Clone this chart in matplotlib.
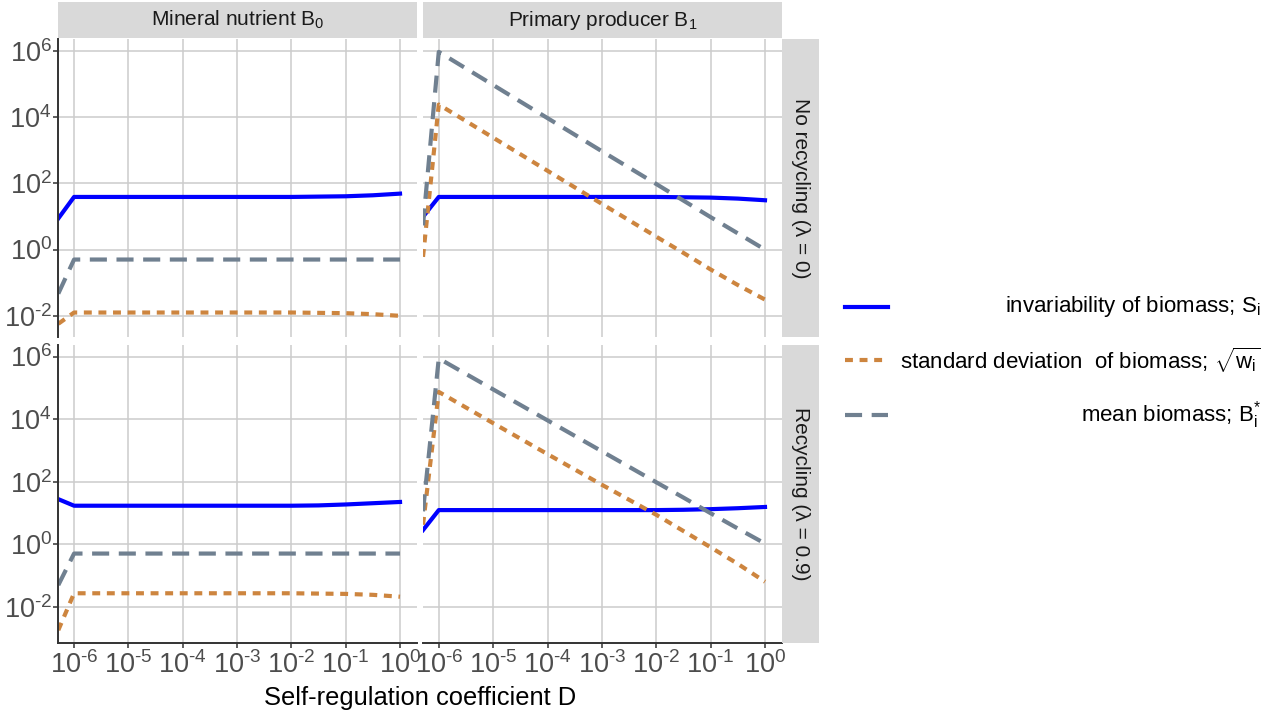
import numpy as np
import matplotlib
matplotlib.use('Agg')
import matplotlib.pyplot as plt
from matplotlib.lines import Line2D
from matplotlib.ticker import NullLocator, FuncFormatter

plt.rcParams['font.family'] = ['Liberation Sans', 'DejaVu Sans']
plt.rcParams['mathtext.fontset'] = 'custom'
plt.rcParams['mathtext.rm'] = 'Liberation Sans'
plt.rcParams['mathtext.it'] = 'Liberation Sans:italic'
plt.rcParams['mathtext.bf'] = 'Liberation Sans:bold'

# log10 of the self-regulation coefficient D
log_d = [-6.29, -6, -5, -4, -3, -2, -1.5, -1, -0.5, 0]

# values are log10 of the plotted quantity
# mineral nutrient B0, no recycling
nut_norec_inv = [0.94, 1.59, 1.59, 1.59, 1.59, 1.59, 1.60, 1.61, 1.64, 1.69]
nut_norec_sd = [-2.24, -1.90, -1.90, -1.90, -1.90, -1.90, -1.91, -1.92, -1.95, -2.00]
nut_norec_mean = [-1.33, -0.30, -0.30, -0.30, -0.30, -0.30, -0.30, -0.30, -0.30, -0.30]
# primary producer B1, no recycling
prod_norec_inv = [0.99, 1.59, 1.59, 1.59, 1.59, 1.59, 1.58, 1.57, 1.54, 1.49]
prod_norec_sd = [-0.22, 4.38, 3.38, 2.38, 1.38, 0.39, -0.10, -0.60, -1.07, -1.51]
prod_norec_mean = [0.73, 5.97, 4.97, 3.97, 2.97, 1.98, 1.48, 0.98, 0.49, 0.0]
# mineral nutrient B0, recycling
nut_rec_inv = [1.44, 1.23, 1.23, 1.23, 1.23, 1.23, 1.24, 1.27, 1.31, 1.35]
nut_rec_sd = [-2.75, -1.57, -1.57, -1.57, -1.57, -1.57, -1.58, -1.59, -1.62, -1.68]
nut_rec_mean = [-1.31, -0.30, -0.30, -0.30, -0.30, -0.30, -0.30, -0.30, -0.30, -0.30]
# primary producer B1, recycling
prod_rec_inv = [0.45, 1.09, 1.09, 1.09, 1.09, 1.09, 1.10, 1.12, 1.15, 1.19]
prod_rec_sd = [0.62, 4.87, 3.87, 2.88, 1.90, 0.94, 0.42, -0.10, -0.63, -1.20]
prod_rec_mean = [1.05, 5.94, 4.95, 3.96, 2.97, 1.98, 1.49, 0.99, 0.50, 0.02]

col_labels = ['Mineral nutrient B$_0$', 'Primary producer B$_1$']
row_labels = ['No recycling (λ = 0)', 'Recycling (λ = 0.9)']
series_labels = ['invariability of biomass; S$_\\mathrm{i}$',
                 'standard deviation  of biomass; $\\sqrt{\\mathrm{w_i}}$',
                 'mean biomass; B$_\\mathrm{i}^{*}$']
x_ticks = [1e-6, 1e-5, 1e-4, 1e-3, 1e-2, 1e-1, 1e0]
y_ticks = [1e-2, 1e0, 1e2, 1e4, 1e6]

panels = [[(nut_norec_inv, nut_norec_sd, nut_norec_mean),
           (prod_norec_inv, prod_norec_sd, prod_norec_mean)],
          [(nut_rec_inv, nut_rec_sd, nut_rec_mean),
           (prod_rec_inv, prod_rec_sd, prod_rec_mean)]]

# line styles: solid blue, dotted orange, dashed grey
styles = [dict(color='#0000FF', lw=3.0, ls='-'),
          dict(color='#CD853F', lw=3.0, dashes=(1.9, 1.6)),
          dict(color='#708090', lw=3.0, dashes=(4.1, 2.3))]


def pow10(v, pos):
    e = int(round(np.log10(v)))
    return '10$^{\\mathrm{%s}}$' % str(e).replace('-', '\u2010')


W, H = 1285, 715
fig = plt.figure(figsize=(W / 100, H / 100), dpi=100)


def box(x0, y0, x1, y1):
    return [x0 / W, 1 - y1 / H, (x1 - x0) / W, (y1 - y0) / H]


col_x = [(58.3, 416.7), (423.0, 781.7)]
row_y = [(39.3, 336.7), (345.0, 643.3)]
row_ylim = [(10 ** -2.63, 10 ** 6.35), (10 ** -3.17, 10 ** 6.37)]

x = 10.0 ** np.array(log_d)
for r in range(2):
    for c in range(2):
        ax = fig.add_axes(box(col_x[c][0], row_y[r][0], col_x[c][1], row_y[r][1]))
        for vals, st in zip(panels[r][c], styles):
            ax.plot(x, 10.0 ** np.array(vals), dash_capstyle='butt', **st)
        ax.set_xscale('log')
        ax.set_yscale('log')
        ax.set_xlim(10 ** -6.29, 10 ** 0.307)
        ax.set_ylim(*row_ylim[r])
        ax.set_xticks(x_ticks)
        ax.set_yticks(y_ticks)
        ax.xaxis.set_minor_locator(NullLocator())
        ax.yaxis.set_minor_locator(NullLocator())
        ax.xaxis.set_major_formatter(FuncFormatter(pow10))
        ax.yaxis.set_major_formatter(FuncFormatter(pow10))
        ax.grid(True, color='#CCCCCC', lw=1.1)
        ax.set_axisbelow(True)
        for s in ax.spines.values():
            s.set_visible(False)
        ax.tick_params(labelsize=19.5, labelcolor='#4D4D4D', color='#333333',
                       length=3.6, width=1.1)
        ax.tick_params(axis='y', pad=1)
        ax.tick_params(axis='x', pad=2)
        if c == 0:
            ax.spines['left'].set_visible(True)
            ax.spines['left'].set_color('#333333')
            ax.spines['left'].set_linewidth(1.4)
        else:
            ax.tick_params(axis='y', left=False, labelleft=False)
        if r == 1:
            ax.spines['bottom'].set_visible(True)
            ax.spines['bottom'].set_color('#333333')
            ax.spines['bottom'].set_linewidth(1.4)
        else:
            ax.tick_params(axis='x', bottom=False, labelbottom=False)

# strips on top
for c in range(2):
    sa = fig.add_axes(box(col_x[c][0], 1.7, col_x[c][1], 38.3))
    sa.set_facecolor('#D9D9D9')
    sa.set_xticks([])
    sa.set_yticks([])
    for s in sa.spines.values():
        s.set_visible(False)
    sa.text(0.5, 0.5, col_labels[c], ha='center', va='center', fontsize=15,
            color='#1A1A1A', transform=sa.transAxes)

# strips on the right
for r in range(2):
    sa = fig.add_axes(box(782.3, row_y[r][0], 819.0, row_y[r][1]))
    sa.set_facecolor('#D9D9D9')
    sa.set_xticks([])
    sa.set_yticks([])
    for s in sa.spines.values():
        s.set_visible(False)
    sa.text(0.5, 0.5, row_labels[r], ha='center', va='center', fontsize=15,
            color='#1A1A1A', rotation=270, transform=sa.transAxes)

fig.text(420 / W, 1 - 698 / H, 'Self-regulation coefficient D', ha='center',
         va='center', fontsize=18.4, color='black')

# legend
leg_y = [306.7, 360.0, 415.0]
for yy, lab, st in zip(leg_y, series_labels, styles):
    fig.add_artist(Line2D([845 / W, 888 / W], [1 - yy / H] * 2,
                          dash_capstyle='butt', **st))
    fig.text(1261 / W, 1 - yy / H, lab, ha='right', va='center', fontsize=16,
             color='black')

fig.savefig('out.png', dpi=100)
